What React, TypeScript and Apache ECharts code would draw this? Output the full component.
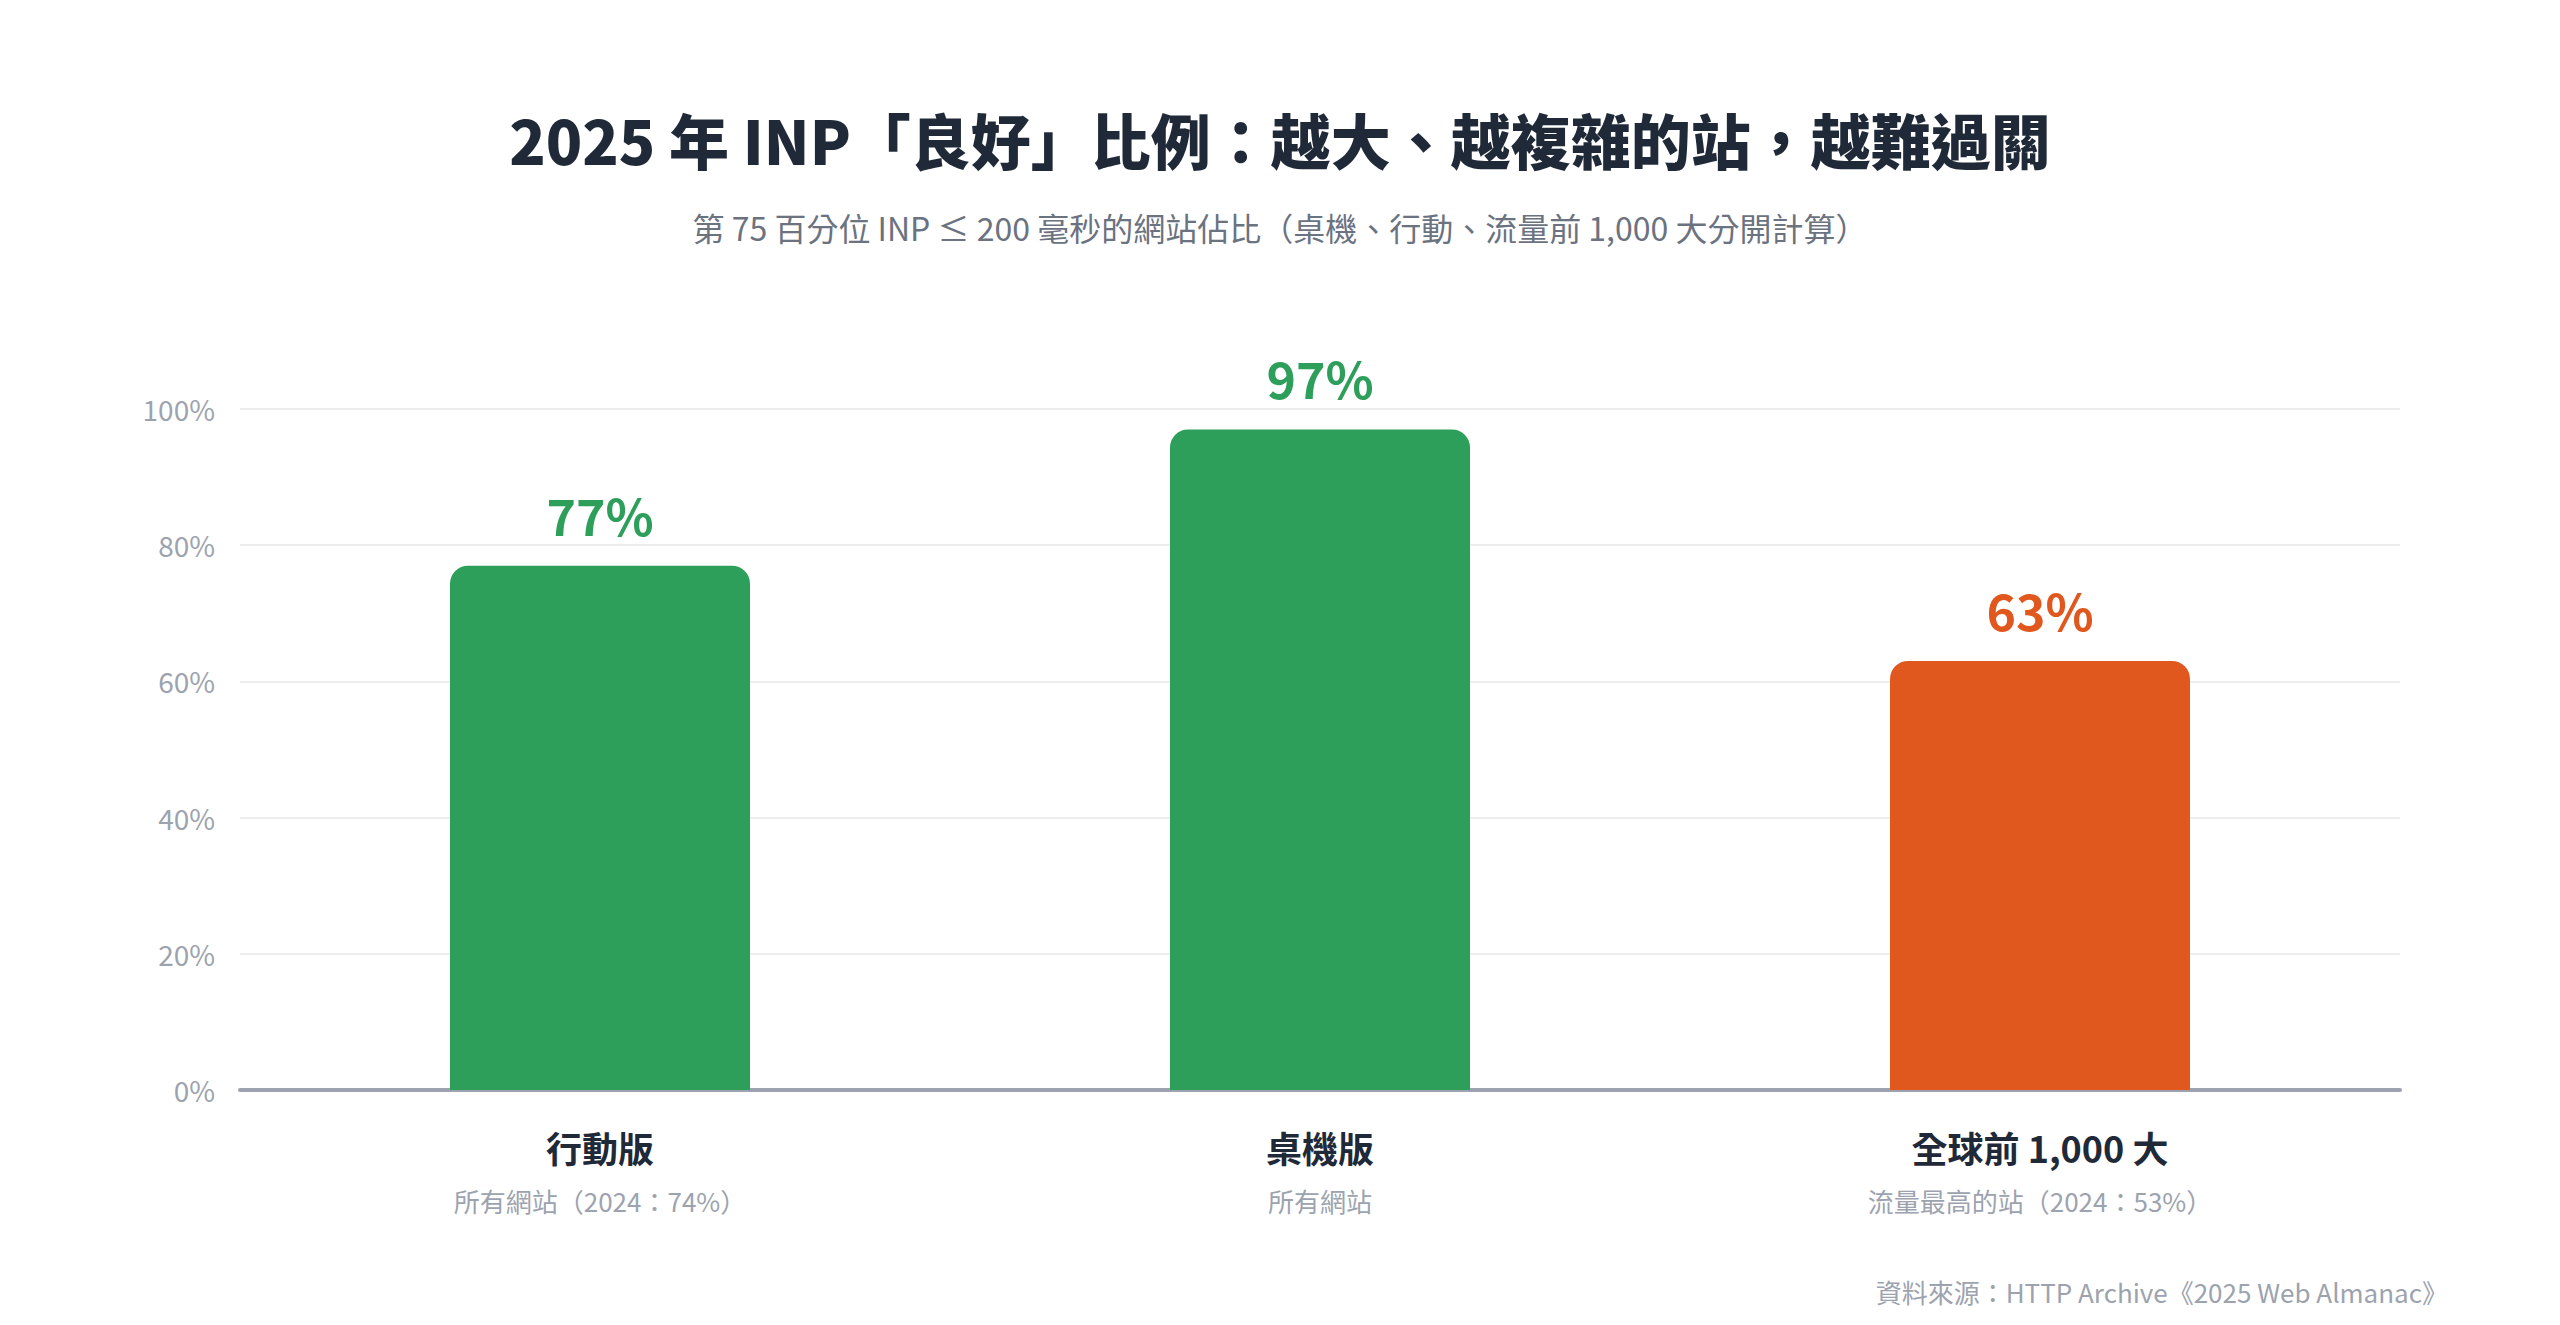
import React, { useEffect, useRef } from 'react';
import * as echarts from 'echarts';

const categories = ['行動版', '桌機版', '全球前 1,000 大'];
const subLabels = ['所有網站（2024：74%）', '所有網站', '流量最高的站（2024：53%）'];
const values = [77, 97, 63];
const flagged = [false, false, true];

const FONT = '"Noto Sans CJK TC", "Noto Sans", sans-serif';
const GREEN = '#2e9f5b';
const ORANGE = '#e0581e';
const DARK = '#1f2937';
const GREY = '#9ca3af';

const App: React.FC = () => {
  const chartRef = useRef<HTMLDivElement>(null);

  useEffect(() => {
    document.body.style.margin = '0';
    const chart = echarts.init(chartRef.current!, undefined, { renderer: 'svg' });

    const option: echarts.EChartsOption = {
      animation: false,
      backgroundColor: '#ffffff',
      textStyle: { fontFamily: FONT },
      title: [
        {
          text: '2025 年 INP「良好」比例：越大、越複雜的站，越難過關',
          left: 'center',
          top: 93,
          textStyle: {
            fontFamily: FONT,
            fontSize: 60,
            fontWeight: 900,
            color: DARK,
            lineHeight: 80,
          },
        },
        {
          text: '第 75 百分位 INP ≤ 200 毫秒的網站佔比（桌機、行動、流量前 1,000 大分開計算）',
          left: 'center',
          top: 202,
          textStyle: {
            fontFamily: FONT,
            fontSize: 32,
            fontWeight: 'normal',
            color: '#6b7280',
            lineHeight: 40,
          },
        },
      ],
      graphic: [
        {
          type: 'text',
          right: 112,
          top: 1278,
          style: {
            text: '資料來源：HTTP Archive《2025 Web Almanac》',
            fontFamily: FONT,
            fontSize: 26,
            fill: GREY,
          },
        },
      ],
      grid: { left: 240, right: 160, top: 409, bottom: 235 },
      xAxis: {
        type: 'category',
        data: categories,
        axisTick: { show: false },
        axisLine: { lineStyle: { color: GREY, width: 4 } },
        axisLabel: {
          margin: 32,
          formatter: (value: string, index: number) =>
            `{a|${value}}\n{b|${subLabels[index]}}`,
          rich: {
            a: { fontFamily: FONT, fontSize: 36, fontWeight: 'bold', color: DARK, lineHeight: 50 },
            b: { fontFamily: FONT, fontSize: 26, color: GREY, lineHeight: 56 },
          },
        },
      },
      yAxis: {
        type: 'value',
        min: 0,
        max: 100,
        interval: 20,
        axisLine: { show: false },
        axisTick: { show: false },
        axisLabel: {
          formatter: '{value}%',
          fontFamily: FONT,
          fontSize: 28,
          color: GREY,
          margin: 25,
        },
        splitLine: { lineStyle: { color: '#ececec', width: 2 } },
      },
      series: [
        {
          type: 'bar',
          barWidth: 300,
          data: values.map((v, i) => ({
            value: v,
            itemStyle: { color: flagged[i] ? ORANGE : GREEN, borderRadius: [18, 18, 0, 0] },
            label: { color: flagged[i] ? ORANGE : GREEN },
          })),
          label: {
            show: true,
            position: 'top',
            distance: 27,
            formatter: '{c}%',
            fontFamily: FONT,
            fontSize: 50,
            fontWeight: 'bold',
          },
          z: 3,
        },
      ],
    };

    chart.setOption(option);
    return () => {
      chart.dispose();
    };
  }, []);

  return <div ref={chartRef} style={{ width: '2560px', height: '1325px' }} />;
};

export default App;
